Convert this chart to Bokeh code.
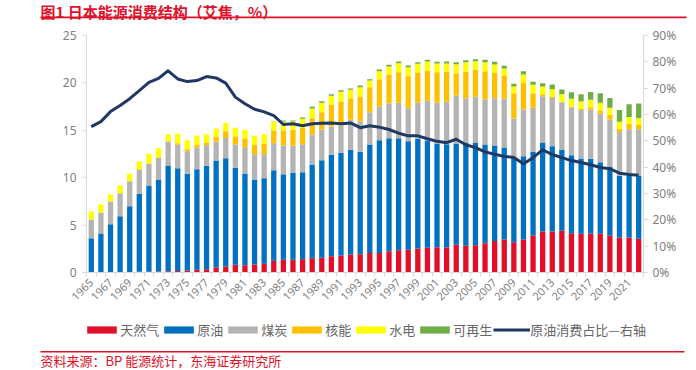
import math
from bokeh.plotting import figure
from bokeh.models import (ColumnDataSource, Range1d, LinearAxis, FixedTicker,
                          PrintfTickFormatter, Legend, LegendItem, Label, BoxAnnotation)
from bokeh.embed import file_html
from bokeh.resources import INLINE

years = list(range(1965, 2023))

gas = [0.03, 0.04, 0.04, 0.05, 0.06, 0.08, 0.09, 0.10, 0.12, 0.16,
       0.20, 0.28, 0.35, 0.53, 0.63, 0.81, 0.77, 0.84, 0.91, 1.23,
       1.34, 1.34, 1.41, 1.51, 1.55, 1.72, 1.79, 1.90, 1.93, 2.07,
       2.07, 2.25, 2.36, 2.39, 2.53, 2.60, 2.67, 2.64, 2.92, 2.81,
       2.88, 3.09, 3.31, 3.48, 3.20, 3.48, 3.90, 4.32, 4.32, 4.40,
       4.15, 4.08, 4.11, 4.08, 3.87, 3.70, 3.68, 3.55]
oil = [3.59, 4.07, 5.06, 5.89, 6.94, 8.22, 9.09, 9.71, 11.17, 10.84,
       10.21, 10.62, 10.90, 11.28, 11.43, 10.23, 9.67, 8.97, 9.04, 9.56,
       9.03, 9.17, 9.17, 9.88, 10.30, 10.69, 10.83, 11.04, 10.80, 11.43,
       11.89, 11.92, 11.81, 11.46, 11.60, 11.32, 10.94, 10.90, 10.69, 10.90,
       10.83, 10.41, 10.09, 9.71, 8.83, 8.79, 8.83, 9.39, 9.00, 8.51,
       8.23, 7.95, 7.88, 7.56, 7.31, 6.50, 6.50, 6.63]
coal = [1.97, 2.22, 2.39, 2.43, 2.63, 2.57, 2.28, 2.29, 2.49, 2.47,
        2.39, 2.29, 2.18, 1.97, 2.14, 2.46, 2.78, 2.67, 2.53, 2.85,
        3.03, 2.85, 2.96, 3.17, 3.20, 2.99, 2.88, 3.16, 3.23, 3.41,
        3.55, 3.66, 3.73, 3.48, 3.77, 4.19, 4.29, 4.50, 5.06, 4.68,
        4.82, 4.75, 4.99, 5.13, 4.22, 4.92, 4.64, 4.89, 5.10, 5.06,
        5.03, 5.10, 5.17, 5.10, 4.92, 4.61, 4.92, 4.92]
nuclear = [0, 0, 0, 0, 0, 0.02, 0.04, 0.05, 0.06, 0.17,
           0.21, 0.31, 0.28, 0.57, 0.70, 0.85, 0.91, 0.99, 1.12, 1.34,
           1.58, 1.69, 1.72, 1.72, 1.86, 2.29, 2.54, 2.29, 2.61, 2.64,
           2.88, 3.06, 3.23, 3.38, 3.20, 3.20, 3.23, 3.16, 2.32, 2.81,
           2.88, 2.99, 2.71, 2.46, 2.67, 2.81, 1.55, 0.21, 0.14, 0.0,
           0.10, 0.18, 0.28, 0.35, 0.53, 0.35, 0.56, 0.46]
hydro = [0.88, 0.84, 0.74, 0.81, 0.81, 0.82, 1.02, 0.97, 0.72, 0.99,
         0.95, 0.95, 0.85, 0.84, 0.89, 0.91, 0.92, 0.95, 0.99, 0.91,
         0.95, 0.88, 0.95, 1.02, 0.99, 0.95, 1.02, 0.88, 0.98, 0.70,
         0.85, 0.84, 0.95, 0.95, 0.91, 0.95, 0.92, 0.85, 0.99, 0.99,
         0.88, 0.95, 0.84, 0.74, 0.70, 0.89, 0.88, 0.81, 0.77, 0.84,
         0.81, 0.74, 0.77, 0.81, 0.74, 0.74, 0.74, 0.70]
renew = [0, 0, 0, 0, 0, 0, 0, 0, 0, 0,
         0, 0, 0, 0, 0, 0, 0, 0, 0, 0.03,
         0.10, 0.10, 0.15, 0.18, 0.17, 0.17, 0.17, 0.14, 0.18, 0.14,
         0.17, 0.18, 0.18, 0.18, 0.18, 0.17, 0.17, 0.21, 0.21, 0.21,
         0.21, 0.24, 0.28, 0.28, 0.28, 0.35, 0.31, 0.35, 0.49, 0.49,
         0.70, 0.74, 0.84, 1.02, 1.05, 1.23, 1.34, 1.58]
oil_share = [55.4, 57.3, 61.1, 63.4, 66.0, 69.1, 72.2, 73.7, 76.6, 73.5,
             72.5, 72.9, 74.4, 73.9, 71.9, 66.6, 64.1, 62.0, 61.0, 59.6,
             56.2, 56.5, 55.7, 56.5, 56.7, 56.8, 56.5, 56.8, 55.0, 55.7,
             55.2, 54.3, 52.9, 51.9, 51.9, 50.8, 49.8, 49.3, 50.6, 48.5,
             47.4, 45.8, 44.9, 44.1, 43.7, 41.3, 43.6, 46.6, 44.8, 43.6,
             42.5, 41.8, 40.9, 39.9, 39.4, 37.7, 37.2, 36.9]

series_keys = ["gas", "oil", "coal", "nuclear", "hydro", "renew"]
series_names = ["天然气", "原油", "煤炭", "核能", "水电", "可再生"]
line_name = "原油消费占比—右轴"
left_ticks = [0, 5, 10, 15, 20, 25]
right_ticks = [0, 10, 20, 30, 40, 50, 60, 70, 80, 90]
title_text = "图1  日本能源消费结构（艾焦，%）"
source_text = "资料来源：BP 能源统计，东海证券研究所"

colors = ["#E0102A", "#0070C0", "#B4B4B4", "#FFC000", "#FFFF00", "#70AD47"]
line_color = "#203864"
red = "#E0102A"
gray_text = "#808080"
axis_gray = "#D9D9D9"
CJK = "Noto Sans CJK SC"

# canvas / layout geometry (pixels)
W, H = 696, 370
FX0, FX1, FY0, FY1 = 86, 643, 35, 272   # plot area: left, right, top, bottom
X0, X1 = years[0] - 0.5, years[-1] + 0.5
Y1 = 25.0
P1 = 90.0


def xd(px):
    return X0 + (px - FX0) * (X1 - X0) / (FX1 - FX0)


def yd(py):
    return (FY1 - py) * Y1 / (FY1 - FY0)


def pd(py):
    return (FY1 - py) * P1 / (FY1 - FY0)


src = ColumnDataSource(dict(year=years, gas=gas, oil=oil, coal=coal, nuclear=nuclear,
                            hydro=hydro, renew=renew, share=oil_share))

p = figure(width=W, height=H, output_backend="svg", toolbar_location=None,
           x_range=Range1d(xd(0), xd(W)), y_range=Range1d(yd(H), yd(0)),
           min_border=0, min_border_left=0, min_border_right=0,
           min_border_top=0, min_border_bottom=0)
p.outline_line_color = None
p.xgrid.visible = False
p.ygrid.visible = False
p.title.visible = False
p.extra_y_ranges = {"pct": Range1d(pd(H), pd(0))}

bars = p.vbar_stack(series_keys, x="year", width=0.55, source=src,
                    fill_color=colors, line_color=None)
ln = p.line("year", "share", source=src, y_range_name="pct",
            line_color=line_color, line_width=3, line_join="round")

xa = p.xaxis[0]
xa.fixed_location = 0
xa.bounds = (X0, X1)
xa.ticker = FixedTicker(ticks=[y for y in years if y % 2 == 1],
                        minor_ticks=[y - 0.5 for y in years] + [X1])
xa.formatter = PrintfTickFormatter(format="%d")
xa.major_tick_out = 0
xa.major_tick_in = 0
xa.minor_tick_out = 4
xa.minor_tick_in = 0
xa.minor_tick_line_color = axis_gray
xa.axis_line_color = axis_gray
xa.major_label_orientation = math.pi / 4
xa.major_label_text_font_size = "11px"
xa.major_label_text_color = gray_text
xa.major_label_text_font = "Noto Sans"
xa.major_label_standoff = 4

ya = p.yaxis[0]
ya.fixed_location = X0
ya.bounds = (0, Y1)
ya.ticker = FixedTicker(ticks=left_ticks)
ya.major_tick_out = 4
ya.major_tick_in = 0
ya.minor_tick_out = 0
ya.minor_tick_in = 0
ya.major_tick_line_color = axis_gray
ya.axis_line_color = axis_gray
ya.major_label_text_font_size = "12px"
ya.major_label_text_color = gray_text
ya.major_label_text_font = "Noto Sans"
ya.major_label_standoff = 6

ra = LinearAxis(y_range_name="pct", ticker=FixedTicker(ticks=right_ticks),
                formatter=PrintfTickFormatter(format="%d%%"))
ra.fixed_location = X1
ra.bounds = (0, P1)
ra.major_tick_out = 4
ra.major_tick_in = 0
ra.minor_tick_out = 0
ra.minor_tick_in = 0
ra.major_tick_line_color = axis_gray
ra.axis_line_color = axis_gray
ra.major_label_text_font_size = "12px"
ra.major_label_text_color = gray_text
ra.major_label_text_font = "Noto Sans"
ra.major_label_standoff = 5
p.add_layout(ra, "right")

items = [LegendItem(label=n, renderers=[r]) for n, r in zip(series_names, bars)]
items.append(LegendItem(label=line_name, renderers=[ln]))
legend = Legend(items=items, orientation="horizontal", location=(83.25, H - 339),
                glyph_width=37, glyph_height=9, label_height=9, label_standoff=0,
                spacing=1, padding=0, margin=0, border_line_color=None,
                background_fill_alpha=0, label_text_font_size="13px",
                label_text_color="#666666", label_text_font=CJK)
p.add_layout(legend)

p.add_layout(Label(x=xd(40), y=yd(0), text=title_text, text_baseline="top",
                   text_font=CJK, text_font_size="15px", text_font_style="bold",
                   text_color=red))
p.add_layout(BoxAnnotation(left=xd(40), right=xd(686), top=yd(16), bottom=yd(17.7),
                           fill_color=red, fill_alpha=1, line_color=None))
p.add_layout(BoxAnnotation(left=xd(40), right=xd(684), top=yd(350.5), bottom=yd(352),
                           fill_color=red, fill_alpha=1, line_color=None))
p.add_layout(Label(x=xd(40), y=yd(369), text=source_text, text_baseline="bottom",
                   text_font=CJK, text_font_size="13px", text_color=red))

open("out.html", "w").write(file_html(p, INLINE))
